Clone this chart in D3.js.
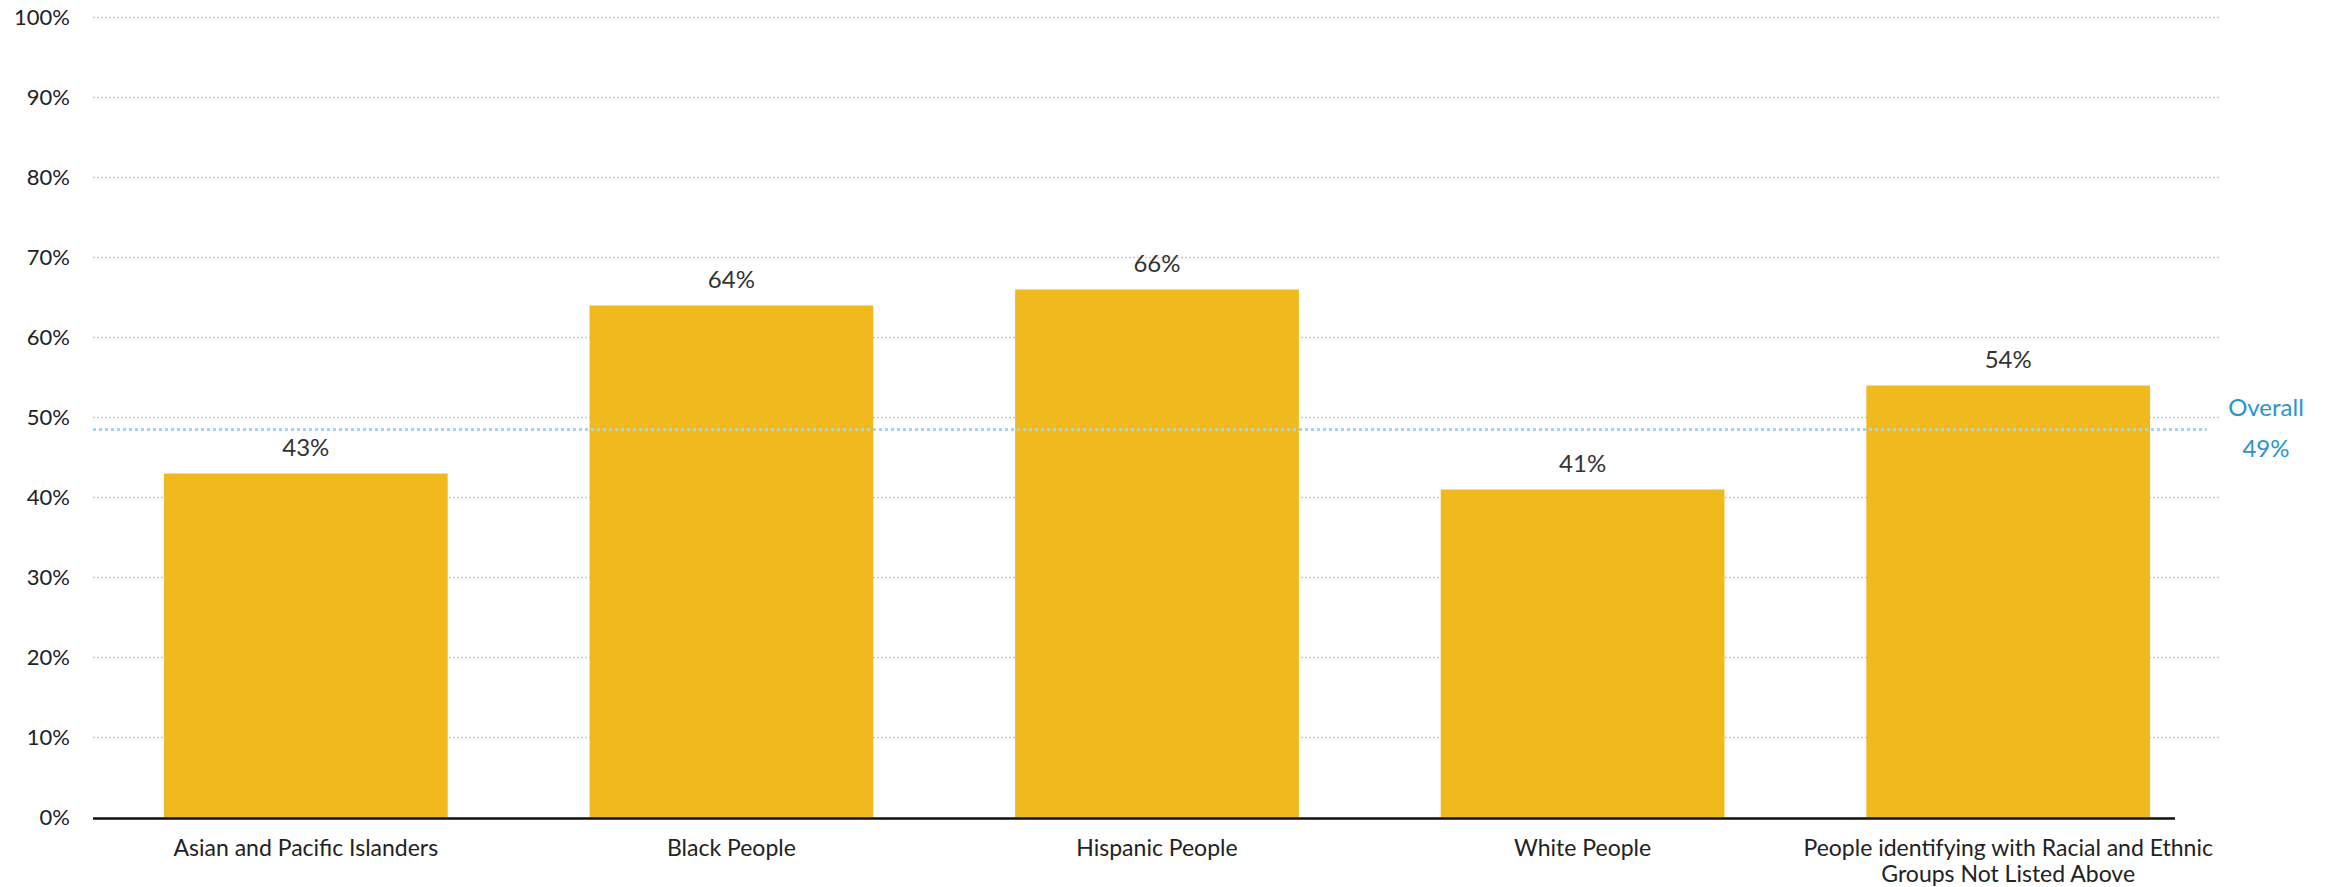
<!DOCTYPE html>
<html><head><meta charset="utf-8">
<script src="https://cdn.jsdelivr.net/npm/d3@7"></script>
<style>body{margin:0;background:#fff;} svg{display:block;font-family:Lato, "Noto Sans", sans-serif;}</style>
</head><body><svg id="c" width="2328" height="887"></svg>
<script>
const categories = ["Asian and Pacific Islanders","Black People","Hispanic People","White People","People identifying with Racial and Ethnic|Groups Not Listed Above"];
const values = [43,64,66,41,54];
const valueLabels = ["43%","64%","66%","41%","54%"];
const yTicks = [0,10,20,30,40,50,60,70,80,90,100];
const overallValue = 48.5;
const overallLabel = ["Overall","49%"];

const svg = d3.select("#c");
const y = d3.scaleLinear().domain([0,100]).range([817.5,17.5]);
const x = d3.scaleBand().domain(categories).range([93,2221]).paddingInner(1/3).paddingOuter(1/6);

// gridlines
svg.append("g").selectAll("line").data(yTicks.filter(d=>d>0)).join("line")
  .attr("x1",93).attr("x2",2220).attr("y1",d=>y(d)).attr("y2",d=>y(d))
  .attr("stroke","#c8c8c8").attr("stroke-width",1.5).attr("stroke-dasharray","2,2");

// y tick labels
svg.append("g").selectAll("text").data(yTicks).join("text")
  .attr("x",70).attr("y",d=>y(d)).attr("dy","0.35em").attr("text-anchor","end")
  .attr("font-size",22).attr("fill","#222").text(d=>d+"%");

// bars
svg.append("g").selectAll("rect").data(values).join("rect")
  .attr("x",(d,i)=>x(categories[i])).attr("width",x.bandwidth())
  .attr("y",d=>y(d)).attr("height",d=>y(0)-y(d)).attr("fill","#F0B91E");

// value labels
svg.append("g").selectAll("text").data(values).join("text")
  .attr("x",(d,i)=>x(categories[i])+x.bandwidth()/2).attr("y",d=>y(d)-18)
  .attr("text-anchor","middle").attr("font-size",24).attr("fill","#333")
  .text((d,i)=>valueLabels[i]);

// overall line
svg.append("line").attr("x1",93).attr("x2",2207).attr("y1",y(overallValue)).attr("y2",y(overallValue))
  .attr("stroke","#a3d6ee").attr("stroke-width",3).attr("stroke-dasharray","3,3");
svg.append("text").attr("x",2266).attr("y",y(overallValue)-14).attr("text-anchor","middle")
  .attr("font-size",24).attr("fill","#2a93d0").text(overallLabel[0]);
svg.append("text").attr("x",2266).attr("y",y(overallValue)+27).attr("text-anchor","middle")
  .attr("font-size",24).attr("fill","#2a93d0").text(overallLabel[1]);

// x axis line
svg.append("line").attr("x1",93).attr("x2",2175).attr("y1",y(0)+1).attr("y2",y(0)+1)
  .attr("stroke","#111").attr("stroke-width",2.5);

// x labels
const xl = svg.append("g").selectAll("text").data(categories).join("text")
  .attr("x",d=>x(d)+x.bandwidth()/2).attr("y",856).attr("text-anchor","middle")
  .attr("font-size",23).attr("fill","#222");
xl.each(function(d){
  const parts = d.split("|");
  const t = d3.select(this);
  parts.forEach((p,k)=>{
    t.append("tspan").attr("x",x(d)+x.bandwidth()/2).attr("dy",k===0?0:26).text(p);
  });
});
</script></body></html>
